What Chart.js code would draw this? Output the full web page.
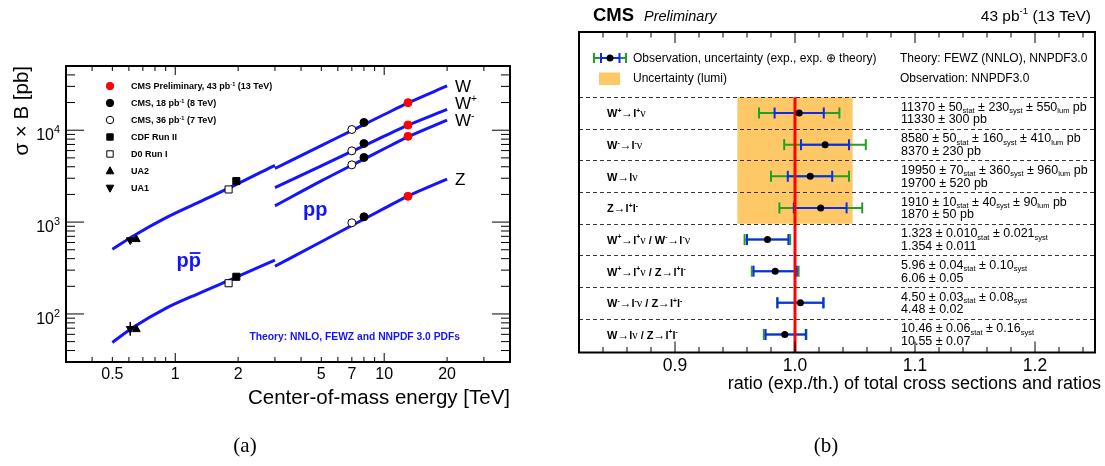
<!DOCTYPE html>
<html>
<head>
<meta charset="utf-8">
<script src="https://cdn.jsdelivr.net/npm/chart.js@4.4.1/dist/chart.umd.min.js"></script>
<style>
html, body { margin: 0; padding: 0; background: #fff; }
#wrap { position: relative; width: 1105px; height: 466px; overflow: hidden; }
canvas { position: absolute; left: 0; top: 0; }
</style>
</head>
<body>
<div id="wrap">
  <canvas id="xsec" width="1105" height="466"></canvas>
  <canvas id="ratio" width="1105" height="466"></canvas>
</div>
<script>
// ---- (a) sigma x B vs centre-of-mass energy ----
const energyPPbar = [0.5, 0.63, 0.9, 1.3, 1.9, 3.0];
const wTheoryPPbar = [505, 705, 1110, 1650, 2480, 4150];
const zTheoryPPbar = [49, 71.5, 115, 168, 244, 385];

const energyPP = [3, 5, 7, 8, 10, 13, 20];
const wTheoryPP = [3830, 6810, 9920, 11530, 14820, 19820, 30300];
const wPlusTheoryPP = [2371, 4093, 5885, 6766, 8605, 11330, 16870];
const wMinusTheoryPP = [1500, 2805, 4155, 4842, 6281, 8457, 12843];
const zTheoryPP = [331, 611, 919, 1076, 1409, 1917, 2932];

const cms13Energy = [13, 13, 13, 13];
const cms13Xsec = [19950, 11370, 8580, 1910];
const cms8Energy = [8, 8, 8, 8];
const cms8Xsec = [12130, 7160, 5050, 1141];
const cms7Energy = [7, 7, 7, 7];
const cms7Xsec = [10180, 5960, 4200, 983];
const cdfEnergy = [1.96, 1.96];
const cdfXsec = [2793, 254];
const d0Energy = [1.8, 1.8];
const d0Xsec = [2266, 216];
const ua2Energy = [0.651, 0.651];
const ua2Xsec = [649, 68];
const ua1Energy = [0.609, 0.609];
const ua1Xsec = [637, 69];
const ua1ZErr = [58, 82];

const xTickValues = [0.5, 1, 2, 5, 7, 10, 20];
const xTickLabels = ['0.5', '1', '2', '5', '7', '10', '20'];
const yTickValues = [100, 1000, 10000];
const yTickLabels = ['10^{2}', '10^{3}', '10^{4}'];
const legendLabels = ['CMS Preliminary, 43 pb^{-1} (13 TeV)', 'CMS, 18 pb^{-1} (8 TeV)', 'CMS, 36 pb^{-1} (7 TeV)',
  'CDF Run II', 'D0 Run I', 'UA2', 'UA1'];

// ---- (b) ratio exp./theory ----
const rowLabels = ['W^{+}→l^{+}ν', 'W^{-}→l^{-}ν', 'W→lν', 'Z→l^{+}l^{-}',
  'W^{+}→l^{+}ν / W^{-}→l^{-}ν', 'W^{+}→l^{+}ν / Z→l^{+}l^{-}', 'W^{-}→l^{-}ν / Z→l^{+}l^{-}', 'W→lν / Z→l^{+}l^{-}'];
const ratioValues = [1.0035, 1.0251, 1.0127, 1.0214, 0.9771, 0.9835, 1.0045, 0.9915];
const expLow = [0.983, 1.005, 0.994, 0.999, 0.960, 0.9655, 0.9855, 0.9755];
const expHigh = [1.024, 1.045, 1.031, 1.043, 0.9945, 1.0015, 1.0235, 1.009];
const totLow = [0.970, 0.991, 0.980, 0.987, 0.958, 0.964, 0.985, 0.974];
const totHigh = [1.037, 1.059, 1.045, 1.056, 0.996, 1.003, 1.024, 1.0095];
const lumiBand = [0.952, 1.048];
const lumiRows = [-0.5, 3.5];
const measuredLines = ['11370 ± 50_{stat} ± 230_{syst} ± 550_{lum} pb', '8580 ± 50_{stat} ± 160_{syst} ± 410_{lum} pb',
  '19950 ± 70_{stat} ± 360_{syst} ± 960_{lum} pb', '1910 ± 10_{stat} ± 40_{syst} ± 90_{lum} pb',
  '1.323 ± 0.010_{stat} ± 0.021_{syst}', '5.96 ± 0.04_{stat} ± 0.10_{syst}',
  '4.50 ± 0.03_{stat} ± 0.08_{syst}', '10.46 ± 0.06_{stat} ± 0.16_{syst}'];
const theoryLines = ['11330 ± 300 pb', '8370 ± 230 pb', '19700 ± 520 pb', '1870 ± 50 pb',
  '1.354 ± 0.011', '6.06 ± 0.05', '4.48 ± 0.02', '10.55 ± 0.07'];
const ratioTickValues = [0.9, 1.0, 1.1, 1.2];
const ratioTickLabels = ['0.9', '1.0', '1.1', '1.2'];

const SANS = '"Liberation Sans", Arial, Helvetica, sans-serif';
const SERIF = '"Liberation Serif", "Times New Roman", serif';
const BLUE = '#1414ff';
const BAR_BLUE = '#0d2bf0';
const BAR_GREEN = '#22a022';
const LUMI = '#fdc865';

function pts(xs, ys) {
    return xs.map((x, i) => ({ x: x, y: ys[i] }));
}

// "a_{sub} b^{sup}" -> [[text, level, symbol]]
function parseRich(s, symbols) {
    const parts = [];
    const re = /([_^])\{([^}]*)\}|([^_^]+)/g;
    let m;
    while ((m = re.exec(s))) {
        const txt = m[3] !== undefined ? m[3] : m[2];
        const lvl = m[3] !== undefined ? 0 : (m[1] === '^' ? 1 : -1);
        if (!symbols) { parts.push([txt, lvl, false]); continue; }
        // greek letters and arrows drawn in a plain serif face, like ROOT's symbol font
        txt.split(/([→ν]+)/).forEach(t => {
            if (t) parts.push([t, lvl, /[→ν]/.test(t)]);
        });
    }
    return parts;
}

function drawRich(ctx, str, x, y, o) {
    const size = o.size;
    const fam = o.family || SANS;
    const pre = (o.style ? o.style + ' ' : '') + (o.weight ? o.weight + ' ' : '');
    const small = size * (o.small || 0.62);
    const parts = parseRich(str, o.symbols);
    const fontOf = p => p[2] ? (size * 1.08) + 'px ' + SERIF : pre + (p[1] ? small : size) + 'px ' + fam;
    let w = 0;
    parts.forEach(p => {
        ctx.font = fontOf(p);
        p.w = ctx.measureText(p[0]).width;
        w += p.w;
    });
    let cx = o.align === 'right' ? x - w : o.align === 'center' ? x - w / 2 : x;
    ctx.fillStyle = o.color || '#000';
    ctx.textAlign = 'left';
    ctx.textBaseline = 'alphabetic';
    parts.forEach(p => {
        ctx.font = fontOf(p);
        const dy = p[1] > 0 ? -size * 0.42 : p[1] < 0 ? size * 0.2 : 0;
        ctx.fillText(p[0], cx, y + dy);
        cx += p.w;
    });
    return w;
}

function line(ctx, x1, y1, x2, y2) {
    ctx.beginPath();
    ctx.moveTo(x1, y1);
    ctx.lineTo(x2, y2);
    ctx.stroke();
}

function drawMarker(ctx, kind, x, y, fill) {
    ctx.save();
    ctx.beginPath();
    if (kind === 'circle') ctx.arc(x, y, 3.7, 0, Math.PI * 2);
    else if (kind === 'rect') ctx.rect(x - 3.2, y - 3.2, 6.4, 6.4);
    else if (kind === 'up') { ctx.moveTo(x, y - 4.2); ctx.lineTo(x + 3.8, y + 2.8); ctx.lineTo(x - 3.8, y + 2.8); ctx.closePath(); }
    else { ctx.moveTo(x, y + 4.2); ctx.lineTo(x + 3.8, y - 2.8); ctx.lineTo(x - 3.8, y - 2.8); ctx.closePath(); }
    ctx.fillStyle = fill;
    ctx.fill();
    ctx.strokeStyle = fill === '#ff0000' ? '#ff0000' : '#000';
    ctx.lineWidth = 1;
    ctx.stroke();
    ctx.restore();
}

function theoryLine(data) {
    return {
        type: 'line', data: data, borderColor: BLUE, borderWidth: 3, pointRadius: 0,
        fill: false, cubicInterpolationMode: 'monotone', order: 5
    };
}

function markerSet(data, style, fill, radius, rotation) {
    return {
        type: 'scatter', data: data, pointStyle: style, pointRadius: radius, pointRotation: rotation || 0,
        backgroundColor: fill, borderColor: fill === '#ff0000' ? '#ff0000' : '#000', borderWidth: 1, order: 1
    };
}

// frame, ticks and all texts of panel (a)
const xsecDecor = {
    id: 'xsecDecor',
    afterDraw(chart) {
        const ctx = chart.ctx, a = chart.chartArea;
        const xs = chart.scales.x, ys = chart.scales.y;
        ctx.save();
        ctx.strokeStyle = '#000';
        ctx.lineWidth = 1;
        for (const e of [-1, 0, 1]) {
            for (let m = 1; m <= 9; m++) {
                const v = m * Math.pow(10, e);
                if (v < 0.3 || v > 40) continue;
                const px = xs.getPixelForValue(v);
                const len = m === 1 ? 9 : 5;
                line(ctx, px, a.bottom, px, a.bottom - len);
                line(ctx, px, a.top, px, a.top + len);
            }
        }
        for (const e of [1, 2, 3, 4]) {
            for (let m = 1; m <= 9; m++) {
                const v = m * Math.pow(10, e);
                if (v < 30 || v > 50000) continue;
                const py = ys.getPixelForValue(v);
                const len = m === 1 ? 18 : 9;
                line(ctx, a.left, py, a.left + len, py);
                line(ctx, a.right, py, a.right - len, py);
            }
        }
        ctx.lineWidth = 2;
        ctx.strokeRect(a.left, a.top, a.right - a.left, a.bottom - a.top);

        xTickValues.forEach((v, i) => {
            drawRich(ctx, xTickLabels[i], xs.getPixelForValue(v), a.bottom + 17, { size: 16, align: 'center' });
        });
        yTickValues.forEach((v, i) => {
            drawRich(ctx, yTickLabels[i], a.left - 6, ys.getPixelForValue(v) + 10, { size: 16, align: 'right', small: 0.68 });
        });
        drawRich(ctx, 'Center-of-mass energy [TeV]', a.right, 404, { size: 20.5, align: 'right' });
        ctx.save();
        ctx.translate(27.5, a.top);
        ctx.rotate(-Math.PI / 2);
        drawRich(ctx, 'σ × B [pb]', 0, 0, { size: 20.5, align: 'right' });
        ctx.restore();

        drawRich(ctx, 'W', 455, 92, { size: 17 });
        drawRich(ctx, 'W^{+}', 455, 109, { size: 17, small: 0.6 });
        drawRich(ctx, 'W^{-}', 455, 126, { size: 17, small: 0.6 });
        drawRich(ctx, 'Z', 455, 185, { size: 17 });

        drawRich(ctx, 'pp', 303, 216, { size: 20, weight: 'bold', color: BLUE });
        ctx.font = 'bold 20px ' + SANS;
        const pw = ctx.measureText('p').width;
        drawRich(ctx, 'pp', 176.5, 267, { size: 20, weight: 'bold', color: BLUE });
        ctx.strokeStyle = BLUE;
        ctx.lineWidth = 1.8;
        line(ctx, 176.5 + pw + 1, 253, 176.5 + 2 * pw - 0.5, 253);
        drawRich(ctx, 'Theory: NNLO, FEWZ and NNPDF 3.0 PDFs', 460, 340,
            { size: 10.3, weight: 'bold', color: BLUE, align: 'right' });

        const kinds = ['circle', 'circle', 'circle', 'rect', 'rect', 'up', 'down'];
        const fills = ['#ff0000', '#000', '#fff', '#000', '#fff', '#000', '#000'];
        legendLabels.forEach((t, i) => {
            const y = 86 + i * 17;
            drawMarker(ctx, kinds[i], 110, y, fills[i]);
            drawRich(ctx, t, 131, y + 3.3, { size: 9, weight: 'bold' });
        });

        drawRich(ctx, '(a)', 245, 452, { size: 21, family: SERIF, align: 'center' });
        drawRich(ctx, '(b)', 826, 452, { size: 21, family: SERIF, align: 'center' });
        ctx.restore();
    }
};

const xsecChart = new Chart(document.getElementById('xsec'), {
    type: 'line',
    data: {
        datasets: [
            theoryLine(pts(energyPPbar, wTheoryPPbar)),
            theoryLine(pts(energyPPbar, zTheoryPPbar)),
            theoryLine(pts(energyPP, wTheoryPP)),
            theoryLine(pts(energyPP, wPlusTheoryPP)),
            theoryLine(pts(energyPP, wMinusTheoryPP)),
            theoryLine(pts(energyPP, zTheoryPP)),
            {
                type: 'line', data: pts(ua1Energy, ua1ZErr), borderColor: '#000',
                borderWidth: 1.5, pointRadius: 0, order: 2
            },
            markerSet(pts(cms7Energy, cms7Xsec), 'circle', '#fff', 4),
            markerSet(pts(cms8Energy, cms8Xsec), 'circle', '#000', 4),
            markerSet(pts(cms13Energy, cms13Xsec), 'circle', '#ff0000', 4),
            markerSet(pts(cdfEnergy, cdfXsec), 'rect', '#000', 5),
            markerSet(pts(d0Energy, d0Xsec), 'rect', '#fff', 5),
            markerSet(pts(ua2Energy, ua2Xsec), 'triangle', '#000', 4.5),
            markerSet(pts(ua1Energy, ua1Xsec), 'triangle', '#000', 4.5, 180)
        ]
    },
    options: {
        responsive: false,
        animation: false,
        events: [],
        layout: { padding: { left: 66, top: 66, right: 595, bottom: 104 } },
        scales: {
            x: { type: 'logarithmic', min: 0.3, max: 40, display: false },
            y: { type: 'logarithmic', min: 30, max: 50000, display: false }
        },
        plugins: { legend: { display: false }, tooltip: { enabled: false } }
    },
    plugins: [xsecDecor]
});

// band, separators and error bars of panel (b)
const ratioBack = {
    id: 'ratioBack',
    beforeDatasetsDraw(chart) {
        const ctx = chart.ctx, a = chart.chartArea;
        const xs = chart.scales.x, ys = chart.scales.y;
        ctx.save();
        const bx1 = xs.getPixelForValue(lumiBand[0]), bx2 = xs.getPixelForValue(lumiBand[1]);
        const by1 = ys.getPixelForValue(lumiRows[0]), by2 = ys.getPixelForValue(lumiRows[1]);
        ctx.fillStyle = LUMI;
        ctx.fillRect(bx1, by1, bx2 - bx1, by2 - by1);

        ctx.strokeStyle = '#333';
        ctx.lineWidth = 1;
        ctx.setLineDash([4, 3]);
        rowLabels.forEach((t, i) => {
            const py = Math.round(ys.getPixelForValue(i - 0.5)) + 0.5;
            line(ctx, a.left, py, a.right, py);
        });
        ctx.setLineDash([]);

        const cap = 5.5;
        ratioValues.forEach((v, i) => {
            const py = ys.getPixelForValue(i);
            [[totLow, totHigh, BAR_GREEN], [expLow, expHigh, BAR_BLUE]].forEach(([lo, hi, col]) => {
                const x1 = xs.getPixelForValue(lo[i]), x2 = xs.getPixelForValue(hi[i]);
                ctx.strokeStyle = col;
                ctx.lineWidth = 2;
                line(ctx, x1, py, x2, py);
                line(ctx, x1, py - cap, x1, py + cap);
                line(ctx, x2, py - cap, x2, py + cap);
            });
        });
        ctx.restore();
    },
    afterDraw(chart) {
        const ctx = chart.ctx, a = chart.chartArea;
        const xs = chart.scales.x, ys = chart.scales.y;
        ctx.save();
        ctx.strokeStyle = '#000';
        ctx.lineWidth = 1;
        for (let k = 41; k <= 62; k++) {
            const px = xs.getPixelForValue(k * 0.02);
            const len = k % 5 === 0 ? 11 : 5.5;
            line(ctx, px, a.bottom, px, a.bottom - len);
            line(ctx, px, a.top, px, a.top + len);
        }
        ctx.lineWidth = 2;
        ctx.strokeRect(a.left, a.top, a.right - a.left, a.bottom - a.top);

        ratioTickValues.forEach((v, i) => {
            drawRich(ctx, ratioTickLabels[i], xs.getPixelForValue(v), a.bottom + 18, { size: 17.5, align: 'center' });
        });
        drawRich(ctx, 'ratio (exp./th.) of total cross sections and ratios', 1101, 389, { size: 18, align: 'right' });

        drawRich(ctx, 'CMS', 593, 21, { size: 18.5, weight: 'bold' });
        drawRich(ctx, 'Preliminary', 644, 21, { size: 14.5, style: 'italic' });
        drawRich(ctx, '43 pb^{-1} (13 TeV)', 1091, 21, { size: 15.5, align: 'right' });

        // legend
        ctx.lineWidth = 2;
        ctx.strokeStyle = BAR_GREEN;
        line(ctx, 594, 58, 626, 58);
        line(ctx, 594, 53, 594, 63);
        line(ctx, 626, 53, 626, 63);
        ctx.strokeStyle = BAR_BLUE;
        line(ctx, 601, 58, 619.5, 58);
        line(ctx, 601, 53, 601, 63);
        line(ctx, 619.5, 53, 619.5, 63);
        ctx.fillStyle = '#000';
        ctx.beginPath();
        ctx.arc(610, 58, 3.5, 0, Math.PI * 2);
        ctx.fill();
        ctx.fillStyle = LUMI;
        ctx.fillRect(599, 72.5, 21, 12.5);
        drawRich(ctx, 'Observation, uncertainty (exp., exp. ⊕ theory)', 633, 62, { size: 12 });
        drawRich(ctx, 'Uncertainty (lumi)', 633, 82, { size: 12 });
        drawRich(ctx, 'Theory: FEWZ (NNLO), NNPDF3.0', 900, 62, { size: 12 });
        drawRich(ctx, 'Observation: NNPDF3.0', 900, 82, { size: 12 });

        rowLabels.forEach((t, i) => {
            const py = ys.getPixelForValue(i);
            drawRich(ctx, t, 607, py + 4.5, { size: 11, weight: 'bold', small: 0.62, symbols: true });
            drawRich(ctx, measuredLines[i], 901, py - 2.3, { size: 12.5, small: 0.6 });
            drawRich(ctx, theoryLines[i], 901, py + 10.5, { size: 12.5 });
        });
        ctx.restore();
    }
};

const ratioChart = new Chart(document.getElementById('ratio'), {
    type: 'line',
    data: {
        datasets: [
            {
                type: 'line', data: [{ x: 1.0, y: -0.5 }, { x: 1.0, y: 7.57 }], borderColor: '#ff0000',
                borderWidth: 3, pointRadius: 0, order: 2
            },
            {
                type: 'scatter', data: ratioValues.map((v, i) => ({ x: v, y: i })), pointRadius: 3.5,
                backgroundColor: '#000', borderColor: '#000', borderWidth: 0, order: 1
            }
        ]
    },
    options: {
        responsive: false,
        animation: false,
        events: [],
        layout: { padding: { left: 579, top: 32, right: 10, bottom: 113.5 } },
        scales: {
            x: { type: 'linear', min: 0.82, max: 1.25, display: false },
            y: { type: 'linear', min: -2.56, max: 7.57, reverse: true, display: false }
        },
        plugins: { legend: { display: false }, tooltip: { enabled: false } }
    },
    plugins: [ratioBack]
});
</script>
</body>
</html>
